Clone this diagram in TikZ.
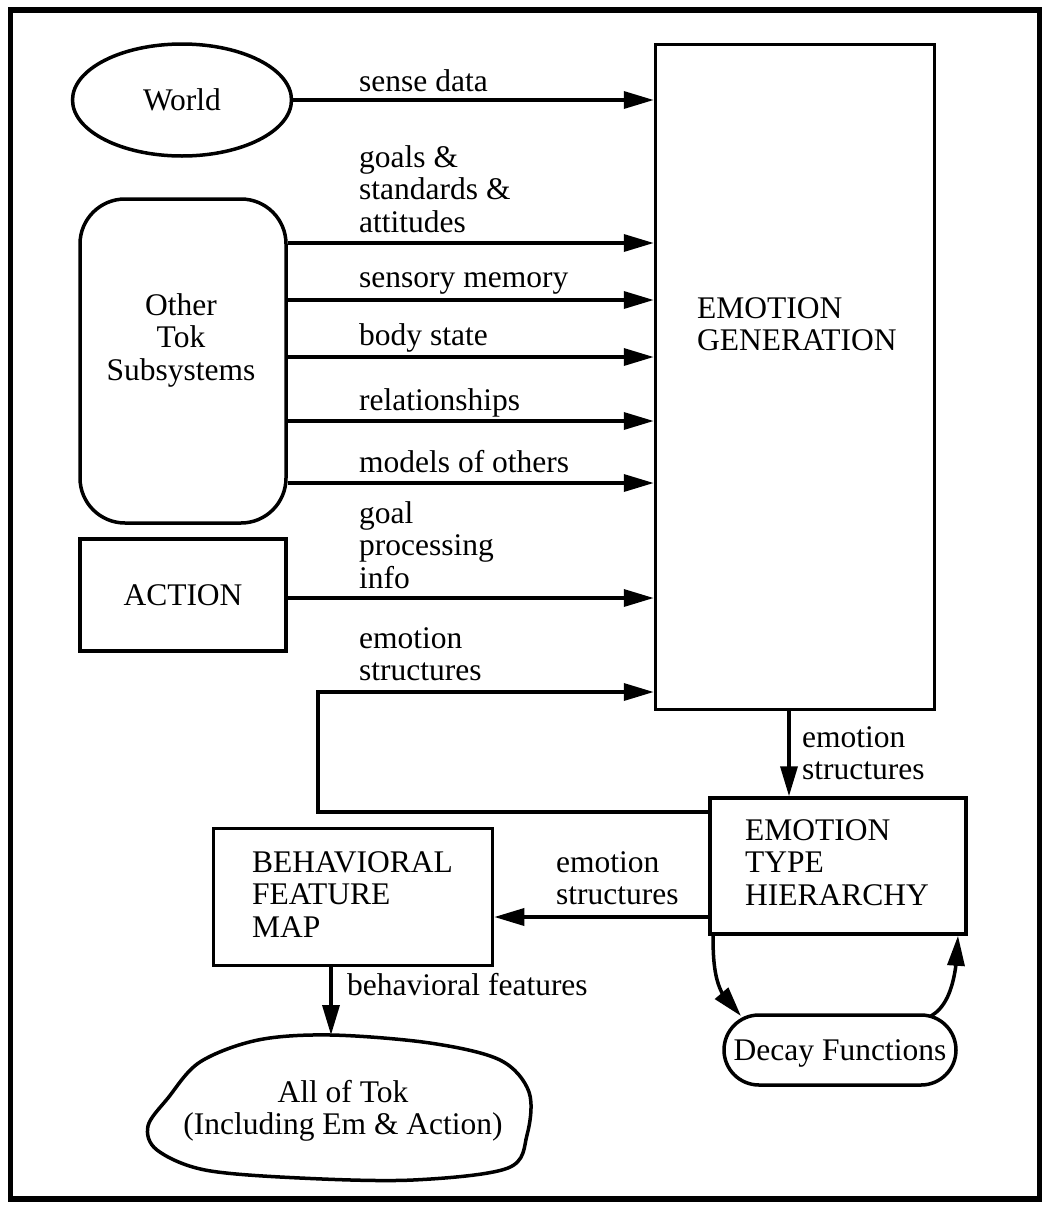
\documentclass[tikz,border=0pt]{standalone}
\usepackage{fontspec}
\setmainfont{Liberation Serif}
\usetikzlibrary{arrows.meta,shapes.geometric,bending}
\newcommand{\linesL}[1]{\begin{tabular}[t]{@{}l@{}}#1\end{tabular}}
\newcommand{\linesC}[1]{\begin{tabular}[t]{@{}c@{}}#1\end{tabular}}
\begin{document}
\begin{tikzpicture}[x=1pt,y=-1pt,
 every node/.style={font=\fontsize{31.5}{32.5}\selectfont},
 box/.style={draw,line width=3.5pt,inner sep=0pt,rectangle},
 lbl/.style={inner sep=0pt,anchor=base west},
 clbl/.style={inner sep=0pt,anchor=base},
 arr/.style={line width=3.5pt,-{Triangle[length=30pt,width=17pt]}},
 carr/.style={line width=3.5pt,-{Triangle[length=30pt,width=17pt,flex]}},
 ln/.style={line width=3.5pt}]
\useasboundingbox (0,0) rectangle (1047,1208);
% outer frame
\draw[line width=5.5pt] (10.5,10) rectangle (1039.5,1199);

% shapes
\node[ellipse,draw,line width=3.5pt,inner sep=0pt,minimum width=219pt,minimum height=112pt] (world) at (182,100) {World};
\node[box,rounded corners=45pt,minimum width=206pt,minimum height=324pt] (ots) at (183,361) {};
\node[clbl] (otstext) at (181,315) {\linesC{Other\\Tok\\Subsystems}};
\node[box,minimum width=206pt,minimum height=112pt] (action) at (183,595) {ACTION};
\node[box,minimum width=279pt,minimum height=665pt] (eg) at (795,377) {};
\node[lbl] (egtext) at (697,318) {\linesL{EMOTION\\GENERATION}};
\node[box,minimum width=256pt,minimum height=136pt] (eth) at (838,866) {};
\node[lbl] (ethtext) at (745,840) {\linesL{EMOTION\\TYPE\\HIERARCHY}};
\node[box,minimum width=279pt,minimum height=137pt] (bfm) at (353,897) {};
\node[lbl] (bfmtext) at (252,872) {\linesL{BEHAVIORAL\\FEATURE\\MAP}};
\node[box,rounded corners=35pt,minimum width=232pt,minimum height=70pt,text depth=0pt] (decay) at (840,1050) {Decay Functions};
% cloud
\draw[ln] plot[smooth cycle, tension=0.55] coordinates {(331,1035) (430,1043) (500,1060) (529,1092) (527,1135) (508,1168) (413,1180) (300,1178) (205,1170) (157,1150) (148,1126) (168,1098) (200,1062) (258,1040)};
\coordinate (cloudtop) at (331,1035);
\node[clbl] (cloudtext) at (343,1102) {\linesC{All of Tok\\(Including Em \& Action)}};

% arrows into emotion generation
\draw[arr] (world.east) -- (eg.west |- world.east);
\node[lbl] (l1) at (359,91) {sense data};
\draw[arr] (ots.east |- 0,243) -- (eg.west |- 0,243);
\node[lbl] (l2) at (359,167) {\linesL{goals \&\\standards \&\\attitudes}};
\draw[arr] (ots.east |- 0,300) -- (eg.west |- 0,300);
\node[lbl] (l3) at (359,287) {sensory memory};
\draw[arr] (ots.east |- 0,357) -- (eg.west |- 0,357);
\node[lbl] (l4) at (359,345) {body state};
\draw[arr] (ots.east |- 0,421) -- (eg.west |- 0,421);
\node[lbl] (l5) at (359,410) {relationships};
\draw[arr] (ots.east |- 0,483) -- (eg.west |- 0,483);
\node[lbl] (l6) at (359,472) {models of others};
\draw[arr] (action.east |- 0,598) -- (eg.west |- 0,598);
\node[lbl] (l7) at (359,523) {\linesL{goal\\processing\\info}};
% feedback loop
\coordinate (lpA) at (318,812);
\coordinate (lpB) at (318,692);
\draw[arr] (eth.west |- lpA) -- (lpA) -- (lpB) -- (eg.west |- lpB);
\node[lbl] (l8) at (359,648) {\linesL{emotion\\structures}};

% eg -> eth
\draw[arr] (eg.south -| 789,0) -- (eth.north -| 789,0);
\node[lbl] (l9) at (802,747) {\linesL{emotion\\structures}};
% eth -> bfm
\draw[arr] (eth.west |- 0,917) -- (bfm.east |- 0,917);
\node[lbl] (l10) at (556,872) {\linesL{emotion\\structures}};
% bfm -> cloud
\draw[arr] (bfm.south -| 331,0) -- (cloudtop);
\node[lbl] (l11) at (347,995) {behavioral features};
% decay loop
\coordinate (dtipL) at (741,1016);
\coordinate (dstR) at (931,1016);
\draw[carr] (eth.south -| 713,0) .. controls (713,978) and (718,996) .. (dtipL);
\draw[carr] (dstR) .. controls (948,1006) and (957,982) .. (eth.south -| 958,0);
\end{tikzpicture}
\end{document}
